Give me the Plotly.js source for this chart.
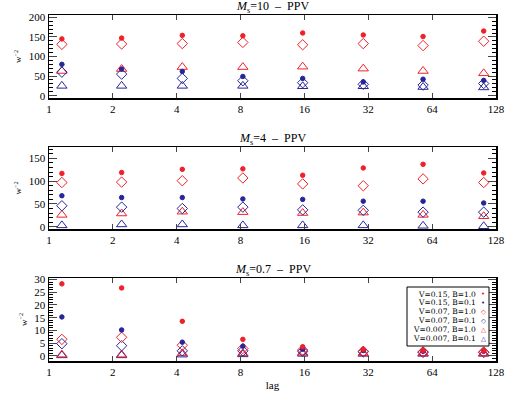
<!DOCTYPE html>
<html><head><meta charset="utf-8">
<script src="https://cdn.plot.ly/plotly-3.0.1.min.js"></script>
<style>html,body{margin:0;padding:0;background:#fff}#chart{width:512px;height:393px}</style>
</head><body><div id="chart"></div>
<script>
// lag positions of the points
const lags = [1.15, 2.2, 4.25, 8.2, 15.7, 30.3, 58, 112];
const tickLabels = ['1','2','4','8','16','32','64','128'];
const tickValues = [1,2,4,8,16,32,64,128];
const seriesNames = ['V=0.15, B=1.0','V=0.15, B=0.1','V=0.07, B=1.0','V=0.07, B=0.1','V=0.007, B=1.0','V=0.007, B=0.1'];
const panelTitles = ['<i>M</i><sub>s</sub>=10  \u2013  PPV','<i>M</i><sub>s</sub>=4  \u2013  PPV','<i>M</i><sub>s</sub>=0.7  \u2013  PPV'];

// Ms=10
const ms10_v015_b10 = [145,147,154,153,160,155,151,165];
const ms10_v015_b01 = [80,68,62,49,44,35,42,39];
const ms10_v007_b10 = [131,132,133,136,130,133,128,139];
const ms10_v007_b01 = [60,55,44,38,33,29,27,31];
const ms10_v0007_b10 = [63,68,73,73,74,69,63,57];
const ms10_v0007_b01 = [25,25,25,25,24,24,22,21];
// Ms=4
const ms4_v015_b10 = [117,119,126,127,113,129,137,118];
const ms4_v015_b01 = [68,64,64,61,60,56,56,52];
const ms4_v007_b10 = [97,98,101,107,94,90,105,97];
const ms4_v007_b01 = [46,43,40,43,37,36,32,32];
const ms4_v0007_b10 = [26,29,33,32,30,31,26,23];
const ms4_v0007_b01 = [3,5,5,3,3,3,2,1];
// Ms=0.7
const ms07_v015_b10 = [28.3,26.7,13.6,6.5,3.6,2.6,2.1,2.0];
const ms07_v015_b01 = [15.3,10.2,5.4,3.8,2.6,2.1,1.8,1.8];
const ms07_v007_b10 = [6.5,7.3,4.2,2.9,2.3,1.8,1.6,1.5];
const ms07_v007_b01 = [4.8,4.0,2.0,2.0,1.8,1.6,1.4,1.4];
const ms07_v0007_b10 = [0.5,0.5,1.0,1.0,1.2,1.0,1.0,1.0];
const ms07_v0007_b01 = [0.2,0.2,0.5,0.6,0.8,0.8,0.8,0.8];

const RED = '#f0202a', BLUE = '#26269a';
const styles = [
  {symbol:'circle', color:RED, size:4.5, sym:'\u2022'},
  {symbol:'circle', color:BLUE, size:4.5, sym:'\u2022'},
  {symbol:'diamond-open', color:RED, size:8, sym:'\u25c7'},
  {symbol:'diamond-open', color:BLUE, size:8, sym:'\u25c7'},
  {symbol:'triangle-up-open', color:RED, size:9, sym:'\u25b3'},
  {symbol:'triangle-up-open', color:BLUE, size:9, sym:'\u25b3'},
];
const panels = [
  [ms10_v015_b10, ms10_v015_b01, ms10_v007_b10, ms10_v007_b01, ms10_v0007_b10, ms10_v0007_b01],
  [ms4_v015_b10, ms4_v015_b01, ms4_v007_b10, ms4_v007_b01, ms4_v0007_b10, ms4_v0007_b01],
  [ms07_v015_b10, ms07_v015_b01, ms07_v007_b10, ms07_v007_b01, ms07_v0007_b10, ms07_v0007_b01],
];
// draw order: triangles and diamonds first, dots on top
const order = [5,4,3,2,1,0];
const traces = [];
panels.forEach((p, pi) => {
  const ax = pi === 0 ? '' : String(pi+1);
  order.forEach(si => {
    const st = styles[si];
    traces.push({
      x: lags, y: p[si], type:'scatter', mode:'markers', name: seriesNames[si],
      xaxis:'x'+ax, yaxis:'y'+ax, showlegend:false,
      marker:{symbol:st.symbol, color:st.color, size:st.size, line:{color:st.color, width:1}}
    });
  });
});

const W = 512, H = 393;
const FAM = 'Liberation Serif, DejaVu Serif, serif';
const font = {family:FAM, size:11, color:'#000'};
const xd = [49/W, 496/W];
const pix = [[15,98],[147,229],[278,361]];
const titleY = [7,139,270];
const yRanges = [[-6,206],[-5,175],[-2,30.6]];
const yDticks = [50,50,5];
const yMinor = [10,10,1];

function xaxis(i){
  return {
    type:'log', range:[0, Math.log10(128)], domain:xd,
    tickvals:tickValues, ticktext:tickLabels, ticks:'inside', ticklen:5,
    showline:true, linecolor:'#000', linewidth:1.5, mirror:'ticks',
    showgrid:false, zeroline:false, anchor:'y'+(i===0?'':i+1), tickfont:font,
    title: i===2 ? {text:'lag', font:font, standoff:4} : {text:''}
  };
}
function yaxis(i){
  return {
    range:yRanges[i], domain:[1-pix[i][1]/H, 1-pix[i][0]/H],
    dtick:yDticks[i], tick0:0, ticks:'inside', ticklen:8,
    minor:{dtick:yMinor[i], ticks:'inside', ticklen:4, tickcolor:'#000', showgrid:false},
    showline:true, linecolor:'#000', linewidth:1.5, mirror:'ticks',
    showgrid:false, zeroline:false, anchor:'x'+(i===0?'':i+1), tickfont:font,
    title:{text:'w<sup>\u22122</sup>', font:{family:FAM, size:9, color:'#000'}, standoff:5}
  };
}
const legTop = 287, legBot = 346, legTextRight = 477, legSymX = 483;
const legendAnn = [];
seriesNames.forEach((n,i)=>{
  const yy = 294 + i*8.9;
  legendAnn.push({xref:'paper', yref:'paper', x:legTextRight/W, y:1-yy/H, xanchor:'right', yanchor:'middle',
    showarrow:false, borderpad:0, text:n, font:{family:'DejaVu Serif', size:7.5, color:'#000'}});
  legendAnn.push({xref:'paper', yref:'paper', x:legSymX/W, y:1-yy/H, xanchor:'center', yanchor:'middle',
    showarrow:false, borderpad:0, text:styles[i].sym, font:{family:'DejaVu Sans', size: i<2 ? 7 : 6.5, color:styles[i].color}});
});
const layout = {
  width:W, height:H, margin:{l:0,r:0,t:0,b:0},
  paper_bgcolor:'#fff', plot_bgcolor:'#fff', font:font, showlegend:false,
  xaxis:xaxis(0), yaxis:yaxis(0), xaxis2:xaxis(1), yaxis2:yaxis(1), xaxis3:xaxis(2), yaxis3:yaxis(2),
  shapes:[{type:'rect', xref:'paper', yref:'paper', x0:407/W, x1:489/W, y0:1-legBot/H, y1:1-legTop/H,
    line:{color:'#000', width:1}, fillcolor:'#fff', layer:'above'}],
  annotations:[
    ...panelTitles.map((t,i)=>({text:t, xref:'paper', yref:'paper', x:(xd[0]+xd[1])/2, y:1-titleY[i]/H,
      yanchor:'middle', xanchor:'center', showarrow:false, font:{family:FAM, size:12, color:'#000'}})),
    ...legendAnn
  ]
};
Plotly.newPlot('chart', traces, layout, {staticPlot:true, displayModeBar:false});
</script></body></html>
